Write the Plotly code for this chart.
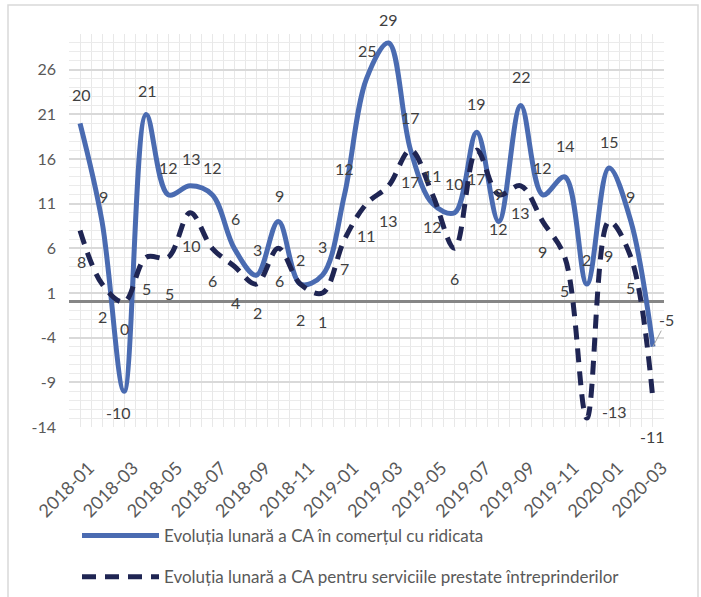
import plotly.graph_objects as go

# ---------------- data ----------------
months = ["2018-01", "2018-02", "2018-03", "2018-04", "2018-05", "2018-06", "2018-07",
          "2018-08", "2018-09", "2018-10", "2018-11", "2018-12", "2019-01", "2019-02",
          "2019-03", "2019-04", "2019-05", "2019-06", "2019-07", "2019-08", "2019-09",
          "2019-10", "2019-11", "2019-12", "2020-01", "2020-02", "2020-03"]
comert = [20, 9, -10, 21, 12, 13, 12, 6, 3, 9, 2, 3, 12, 25, 29, 17, 11, 10, 19, 9, 22,
          12, 14, 2, 15, 9, -5]
servicii = [8, 2, 0, 5, 5, 10, 6, 4, 2, 6, 2, 1, 7, 11, 13, 17, 12, 6, 17, 12, 13, 9, 5,
            -13, 9, 5, -11]
name_comert = "Evoluția lunară a CA în comerțul cu ridicata"
name_servicii = "Evoluția lunară a CA pentru serviciile prestate întreprinderilor"
y_ticks = [-14, -9, -4, 1, 6, 11, 16, 21, 26]
y_ticktext = ["-14", "-9", "-4", "1", "6", "11", "16", "21", "26"]

# ---------------- label offsets (pixels, dx right, dy down) ----------------
off_comert = [(1, -29), (1, -25), (-6, 21), (1, -24), (0, -27), (1, -27), (0, -27), (1, -30),
              (1, -26), (1, -26), (0, -25), (0, -29), (0, -26), (1, -28), (0, -23), (0, -33),
              (0, -28), (0, -29), (0, -29), (0, -28), (1, -29), (0, -27), (1, -31), (0, -25),
              (1, -26), (0, -25), (14, -27)]
off_servicii = [(1, 31), (0, 32), (0, 27), (0, 31), (1, 36), (1, 33), (0, 32), (1, 36),
                (1, 28), (1, 32), (0, 35), (0, 28), (0, 29), (0, 32), (0, 35), (0, 31),
                (0, 32), (0, 30), (0, 28), (0, 34), (0, 27), (0, 30), (0, 33), (28, -7),
                (0, 34), (0, 30), (0, 36)]

C_SOLID = "#4A6BB1"
C_DASH = "#1F2553"
FONT = "Lato"
LABEL_COLOR = "#404040"
AXIS_COLOR = "#595959"

W, H = 701, 597
ML, MR, MT, MB = 69, 37, 34, 170

x = list(range(len(months)))

fig = go.Figure()
fig.add_trace(go.Scatter(
    x=x, y=comert, mode="lines", name=name_comert, legendgroup="a",
    line=dict(color=C_SOLID, width=5, shape="spline", smoothing=1.0),
    hoverinfo="skip"))
fig.add_trace(go.Scatter(
    x=x, y=servicii, mode="lines", name=name_servicii, legendgroup="b",
    line=dict(color=C_DASH, width=5, shape="spline", smoothing=1.0, dash="14px,9px"),
    hoverinfo="skip"))

LBL_FONT = dict(family=FONT, size=16, color=LABEL_COLOR)
annotations = []
for i, v in enumerate(comert):
    dx, dy = off_comert[i]
    if i == len(comert) - 1:
        annotations.append(dict(x=x[i], y=v, text=str(v), showarrow=True, ax=dx, ay=dy,
                                arrowhead=0, arrowwidth=1, arrowcolor="#A6A6A6",
                                standoff=0, startstandoff=0, font=LBL_FONT))
    else:
        annotations.append(dict(x=x[i], y=v, text=str(v), showarrow=False,
                                xshift=dx, yshift=-dy, font=LBL_FONT))
for i, v in enumerate(servicii):
    dx, dy = off_servicii[i]
    annotations.append(dict(x=x[i], y=v, text=str(v), showarrow=False,
                            xshift=dx, yshift=-dy, font=LBL_FONT))

plot_w = W - ML - MR
plot_h = H - MT - MB


def px_to_paper_x(px):
    return (px - ML) / plot_w


def px_to_paper_y(py):
    return (H - MB - py) / plot_h


# outer chart border
shapes = [dict(type="rect", xref="paper", yref="paper",
               x0=px_to_paper_x(8), x1=px_to_paper_x(698),
               y0=px_to_paper_y(620), y1=px_to_paper_y(5),
               line=dict(color="#D9D9D9", width=1.5), fillcolor="rgba(0,0,0,0)",
               layer="below")]

fig.update_layout(
    width=W, height=H,
    margin=dict(l=ML, r=MR, t=MT, b=MB, autoexpand=False),
    paper_bgcolor="white", plot_bgcolor="white",
    font=dict(family=FONT, color=AXIS_COLOR, size=16),
    showlegend=True,
    legend=dict(x=px_to_paper_x(77), y=px_to_paper_y(518), xanchor="left", yanchor="top",
                orientation="v", traceorder="grouped", tracegroupgap=16,
                itemwidth=77, font=dict(family=FONT, size=17, color=AXIS_COLOR),
                bgcolor="rgba(0,0,0,0)"),
    annotations=annotations,
    shapes=shapes,
    xaxis=dict(range=[-0.5, len(months) - 0.5], tickmode="array",
               tickvals=x[::2], ticktext=months[::2], tickangle=-45,
               tickfont=dict(family=FONT, size=18, color=AXIS_COLOR),
               showgrid=True, gridcolor="#E8E8E8", gridwidth=1,
               minor=dict(tick0=-0.5, dtick=0.5, showgrid=True, gridcolor="#E8E8E8",
                          gridwidth=1),
               showline=False, zeroline=False, ticks="", ticklabelstandoff=26,
               ticklabelshift=9, fixedrange=True),
    yaxis=dict(range=[-14, 30], tickmode="array", tickvals=y_ticks, ticktext=y_ticktext,
               tickfont=dict(family=FONT, size=16, color=AXIS_COLOR),
               showgrid=True, gridcolor="#D9D9D9", gridwidth=1.5,
               minor=dict(tick0=-14, dtick=1, showgrid=True, gridcolor="#EBEBEB",
                          gridwidth=1),
               zeroline=True, zerolinecolor="#868686", zerolinewidth=3,
               showline=False, ticks="", ticklabelstandoff=12, fixedrange=True),
)

fig.write_html("out.html", post_script="document.body.style.margin='0px';",
               config={"displayModeBar": False})
